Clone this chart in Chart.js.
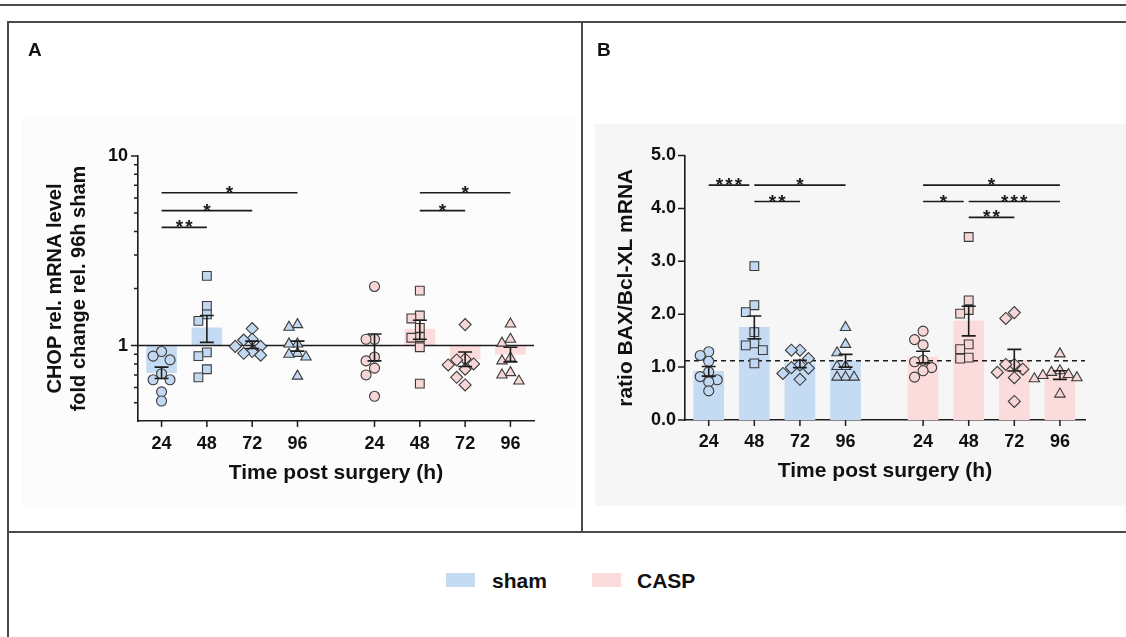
<!DOCTYPE html>
<html>
<head>
<meta charset="utf-8">
<title>CHOP and BAX/Bcl-XL after sham / CASP</title>
<script src="https://cdn.jsdelivr.net/npm/chart.js@4.4.1/dist/chart.umd.min.js"></script>
<style>
  body { margin: 0; background: #fff; font-family: "Liberation Sans", Arial, sans-serif; }
  #page { position: relative; width: 1126px; height: 637px; overflow: hidden; }
  .bg { position: absolute; }
  .rule { position: absolute; background: #4a4a4a; z-index: 5; }
  canvas { position: absolute; top: 0; }
  .panel-label { position: absolute; font-weight: bold; font-size: 19px; line-height: 20px; color: #111; }
  .swatch { position: absolute; width: 29px; height: 14px; top: 573px; }
  .legend-text { position: absolute; top: 570px; font-weight: bold; font-size: 21px; line-height: 21px; color: #111; }
</style>
</head>
<body>
<div id="page">
  <div class="bg" style="left:22px; top:117px; width:554px; height:390px; background:#fcfcfc;"></div>
  <div class="bg" style="left:595px; top:124px; width:531px; height:382px; background:#f6f6f6;"></div>

  <canvas id="chopChart" width="580" height="530" style="left:0;"></canvas>
  <canvas id="ratioChart" width="544" height="530" style="left:582px;"></canvas>

  <div class="panel-label" style="left:28px; top:40px;">A</div>
  <div class="panel-label" style="left:597px; top:40px;">B</div>

  <div class="rule" style="left:0; top:4px; width:1126px; height:1.5px;"></div>
  <div class="rule" style="left:7px; top:21px; width:1119px; height:1.5px;"></div>
  <div class="rule" style="left:7px; top:21px; width:1.5px; height:616px;"></div>
  <div class="rule" style="left:581px; top:21px; width:1.5px; height:511px;"></div>
  <div class="rule" style="left:7px; top:531px; width:1119px; height:1.5px;"></div>

  <div class="swatch" style="left:446px; background:#c5dbf4;"></div>
  <div class="legend-text" style="left:492px;">sham</div>
  <div class="swatch" style="left:592px; background:#fbdbdb;"></div>
  <div class="legend-text" style="left:637px;">CASP</div>
</div>

<script>
// categories
const timeLabels = ['24', '48', '72', '96'];
const groupNames = ['sham', 'CASP'];

// A: CHOP rel. mRNA level, fold change rel. 96h sham (one array per time point)
const chopSham = [
  [0.93, 0.88, 0.84, 0.71, 0.66, 0.66, 0.57, 0.51],
  [2.33, 1.62, 1.46, 1.35, 0.92, 0.88, 0.75, 0.68],
  [1.23, 1.08, 1.07, 0.99, 0.99, 0.93, 0.91, 0.89],
  [1.29, 1.25, 1.02, 1.02, 0.91, 0.90, 0.87, 0.69]
];
const chopCasp = [
  [2.05, 1.08, 1.08, 0.87, 0.83, 0.76, 0.70, 0.54],
  [1.95, 1.44, 1.39, 1.24, 1.11, 1.10, 0.98, 0.63],
  [1.29, 0.85, 0.84, 0.80, 0.79, 0.75, 0.68, 0.62],
  [1.30, 1.08, 1.03, 0.86, 0.83, 0.72, 0.70, 0.65]
];
const chopShamMean = [0.72, 1.24, 1.01, 0.995];
const chopShamSem = [0.05, 0.2, 0.045, 0.06];
const chopCaspMean = [0.99, 1.22, 0.85, 0.9];
const chopCaspSem = [0.16, 0.14, 0.075, 0.08];
const chopTicks = [0.5, 0.6, 0.7, 0.8, 0.9, 1, 2, 3, 4, 5, 6, 7, 8, 9, 10];
const chopMajor = [1, 10];
// [from group, to group, height, stars]  groups 0-3 sham, 4-7 CASP
const chopSig = [[0, 1, 4.2, '**'], [0, 2, 5.15, '*'], [0, 3, 6.4, '*'], [5, 6, 5.15, '*'], [5, 7, 6.4, '*']];

// B: ratio BAX/Bcl-XL mRNA
const ratioSham = [
  [1.29, 1.22, 1.11, 0.91, 0.82, 0.76, 0.72, 0.55],
  [2.91, 2.17, 2.04, 1.66, 1.45, 1.41, 1.32, 1.07],
  [1.32, 1.32, 1.16, 1.04, 0.99, 0.98, 0.88, 0.77],
  [1.75, 1.43, 1.27, 1.01, 1.01, 0.81, 0.81, 0.81]
];
const ratioCasp = [
  [1.68, 1.52, 1.42, 1.13, 1.10, 0.99, 0.93, 0.81],
  [3.46, 2.26, 2.08, 2.01, 1.43, 1.34, 1.18, 1.16],
  [2.03, 1.92, 1.05, 1.05, 0.96, 0.90, 0.80, 0.35],
  [1.25, 0.93, 0.90, 0.86, 0.84, 0.80, 0.78, 0.49]
];
const ratioShamMean = [0.92, 1.75, 1.06, 1.12];
const ratioShamSem = [0.09, 0.215, 0.07, 0.12];
const ratioCaspMean = [1.19, 1.87, 1.13, 0.85];
const ratioCaspSem = [0.11, 0.28, 0.205, 0.082];
const ratioTicks = [0, 1, 2, 3, 4, 5];
const ratioRef = 1.12;
const ratioSig = [[0, 1, 4.44, '***'], [1, 3, 4.44, '*'], [1, 2, 4.13, '**'], [4, 7, 4.44, '*'],
                  [4, 5, 4.13, '*'], [5, 7, 4.13, '***'], [5, 6, 3.83, '**']];

// styling
const barColors = ['#c5dbf4', '#fbdbdb'];
const markerFills = ['#c2d8f2', '#f7d6d6'];
const markerShapes = ['circle', 'rect', 'rectRot', 'triangle'];
const markerSizes = [5, 6.2, 6, 6];
const ink = '#1c1c1c';

Chart.defaults.font.family = '"Liberation Sans", Arial, sans-serif';
Chart.defaults.color = '#111';

// sham and CASP blocks sit a bit apart on the x axis
const xPos = i => i + (i >= 4 ? 0.7 : 0);
const xTickPos = [0, 1, 2, 3, 4, 5, 6, 7].map(xPos);

// simple beeswarm so the markers don't sit on top of each other
function swarm(vals, toPx, unitPx) {
  const placed = [];
  return vals.map(v => {
    const py = toPx(v);
    let off = 0;
    for (let k = 0; k < 14; k++) {
      const cand = k === 0 ? 0 : (k % 2 ? -1 : 1) * Math.ceil(k / 2) * 8.5;
      if (placed.every(p => Math.hypot(p.x - cand, p.y - py) >= 8.5)) { off = cand; break; }
    }
    placed.push({ x: off, y: py });
    return off / unitPx;
  });
}

function makeDatasets(values, means, isLog, toPx) {
  const ds = [];
  [0, 1].forEach(g => {
    ds.push({
      type: 'bar',
      label: groupNames[g],
      data: means[g].map((m, i) => ({ x: xPos(g * 4 + i), y: isLog ? [1, m] : m })),
      backgroundColor: barColors[g],
      borderWidth: 0,
      barThickness: 30,
      grouped: false,
      order: 10
    });
    values[g].forEach((vals, i) => {
      const offs = swarm(vals, toPx, 45.5);
      ds.push({
        type: 'scatter',
        label: groupNames[g] + ' ' + timeLabels[i] + ' h',
        data: vals.map((v, k) => ({ x: xPos(g * 4 + i) + offs[k], y: v })),
        pointStyle: markerShapes[i],
        pointRadius: markerSizes[i],
        backgroundColor: markerFills[g],
        borderColor: '#3a3a3a',
        borderWidth: 1.1,
        order: 1
      });
    });
  });
  return ds;
}

// reference line, error bars, significance bars, tick marks
function makeExtras(cfg) {
  return {
    id: 'extras',
    afterDatasetDraw(chart, args) {
      if (args.index !== 0) return;
      const { ctx, chartArea, scales: { y } } = chart;
      const py = y.getPixelForValue(cfg.refValue);
      ctx.save();
      ctx.strokeStyle = ink;
      ctx.lineWidth = 1.6;
      if (cfg.refDash) ctx.setLineDash(cfg.refDash);
      ctx.beginPath();
      ctx.moveTo(chartArea.left, py);
      ctx.lineTo(chartArea.right, py);
      ctx.stroke();
      ctx.restore();
    },
    afterDatasetsDraw(chart) {
      const { ctx, scales: { x, y } } = chart;
      ctx.save();
      ctx.strokeStyle = ink;
      ctx.lineWidth = 1.6;
      ctx.beginPath();
      [0, 1].forEach(g => cfg.means[g].forEach((m, i) => {
        const px = x.getPixelForValue(xPos(g * 4 + i));
        const hi = y.getPixelForValue(m + cfg.sems[g][i]);
        const lo = y.getPixelForValue(m - cfg.sems[g][i]);
        ctx.moveTo(px, hi); ctx.lineTo(px, lo);
        ctx.moveTo(px - 7, hi); ctx.lineTo(px + 7, hi);
        ctx.moveTo(px - 7, lo); ctx.lineTo(px + 7, lo);
      }));
      ctx.stroke();

      ctx.fillStyle = ink;
      ctx.font = 'bold 19px "Liberation Sans", Arial, sans-serif';
      ctx.textAlign = 'center';
      ctx.textBaseline = 'alphabetic';
      cfg.sig.forEach(([a, b, level, stars]) => {
        const x1 = x.getPixelForValue(xPos(a));
        let x2 = x.getPixelForValue(xPos(b));
        if (cfg.sig.some(s => s[0] === b && s[2] === level)) x2 -= 5;
        const py = y.getPixelForValue(level);
        ctx.beginPath();
        ctx.moveTo(x1, py);
        ctx.lineTo(x2, py);
        ctx.stroke();
        const cx = (x1 + x2) / 2;
        for (let k = 0; k < stars.length; k++) {
          ctx.fillText('*', cx + (k - (stars.length - 1) / 2) * 9.5, py + 6);
        }
      });
      ctx.restore();
    },
    afterDraw(chart) {
      const { ctx, scales: { x, y } } = chart;
      ctx.save();
      ctx.strokeStyle = ink;
      ctx.lineWidth = 1.5;
      ctx.beginPath();
      x.ticks.forEach(t => {
        const px = x.getPixelForValue(t.value);
        ctx.moveTo(px, x.top); ctx.lineTo(px, x.top + 6);
      });
      y.ticks.forEach(t => {
        const py = y.getPixelForValue(t.value);
        const len = cfg.major.includes(t.value) ? 7 : 4;
        ctx.moveTo(y.right, py); ctx.lineTo(y.right - len, py);
      });
      ctx.stroke();
      ctx.restore();
    }
  };
}

function xScale(max, labelPad, titlePad) {
  return {
    type: 'linear', min: -0.52, max: max, offset: false,
    grid: { display: false, drawTicks: false },
    border: { display: true, color: ink, width: 1.6 },
    afterBuildTicks: s => { s.ticks = xTickPos.map(v => ({ value: v })); },
    ticks: {
      autoSkip: false, maxRotation: 0, padding: labelPad, color: '#111',
      font: { size: 18, weight: 'bold' },
      callback: (v, i) => timeLabels[i % 4]
    },
    title: {
      display: true, text: 'Time post surgery (h)', color: '#111',
      font: { size: 21, weight: 'bold' }, padding: { top: 0, bottom: titlePad }
    },
    afterFit: s => { s.height = 70; }
  };
}

// render panel A
new Chart(document.getElementById('chopChart'), {
  type: 'bar',
  data: {
    datasets: makeDatasets([chopSham, chopCasp], [chopShamMean, chopCaspMean], true,
                           v => -Math.log10(v) * 190)
  },
  options: {
    responsive: false, animation: false, events: [],
    layout: { padding: { left: 0, top: 156, right: 46, bottom: 39 } },
    plugins: { legend: { display: false }, tooltip: { enabled: false } },
    scales: {
      x: xScale(8.22, 12, 5),
      y: {
        type: 'logarithmic', min: 0.4, max: 10,
        grid: { display: false, drawTicks: false },
        border: { display: true, color: ink, width: 1.6 },
        afterBuildTicks: s => { s.ticks = chopTicks.map(v => ({ value: v })); },
        ticks: {
          autoSkip: false, padding: 10, color: '#111',
          font: { size: 18, weight: 'bold' },
          callback: v => chopMajor.includes(v) ? String(v) : ''
        },
        title: {
          display: true, text: ['CHOP rel. mRNA level', 'fold change rel. 96h sham'], color: '#111',
          font: { size: 20, weight: 'bold' }, padding: { top: 43, bottom: 0 }
        },
        afterFit: s => { s.width = 138; }
      }
    }
  },
  plugins: [makeExtras({
    means: [chopShamMean, chopCaspMean], sems: [chopShamSem, chopCaspSem],
    refValue: 1, refDash: null, sig: chopSig, major: chopMajor
  })]
});

// render panel B
new Chart(document.getElementById('ratioChart'), {
  type: 'bar',
  data: {
    datasets: makeDatasets([ratioSham, ratioCasp], [ratioShamMean, ratioCaspMean], false,
                           v => -v * 53)
  },
  options: {
    responsive: false, animation: false, events: [],
    layout: { padding: { left: 0, top: 155.5, right: 41, bottom: 40 } },
    plugins: { legend: { display: false }, tooltip: { enabled: false } },
    scales: {
      x: xScale(8.25, 11, 6),
      y: {
        type: 'linear', min: 0, max: 5,
        grid: { display: false, drawTicks: false },
        border: { display: true, color: ink, width: 1.6 },
        afterBuildTicks: s => { s.ticks = ratioTicks.map(v => ({ value: v })); },
        ticks: {
          autoSkip: false, padding: 9, color: '#111',
          font: { size: 18, weight: 'bold' },
          callback: v => v.toFixed(1)
        },
        title: {
          display: true, text: 'ratio BAX/Bcl-XL mRNA', color: '#111',
          font: { size: 21, weight: 'bold' }, padding: { top: 32, bottom: 0 }
        },
        afterFit: s => { s.width = 103; }
      }
    }
  },
  plugins: [makeExtras({
    means: [ratioShamMean, ratioCaspMean], sems: [ratioShamSem, ratioCaspSem],
    refValue: ratioRef, refDash: [5, 4], sig: ratioSig, major: ratioTicks
  })]
});
</script>
</body>
</html>
